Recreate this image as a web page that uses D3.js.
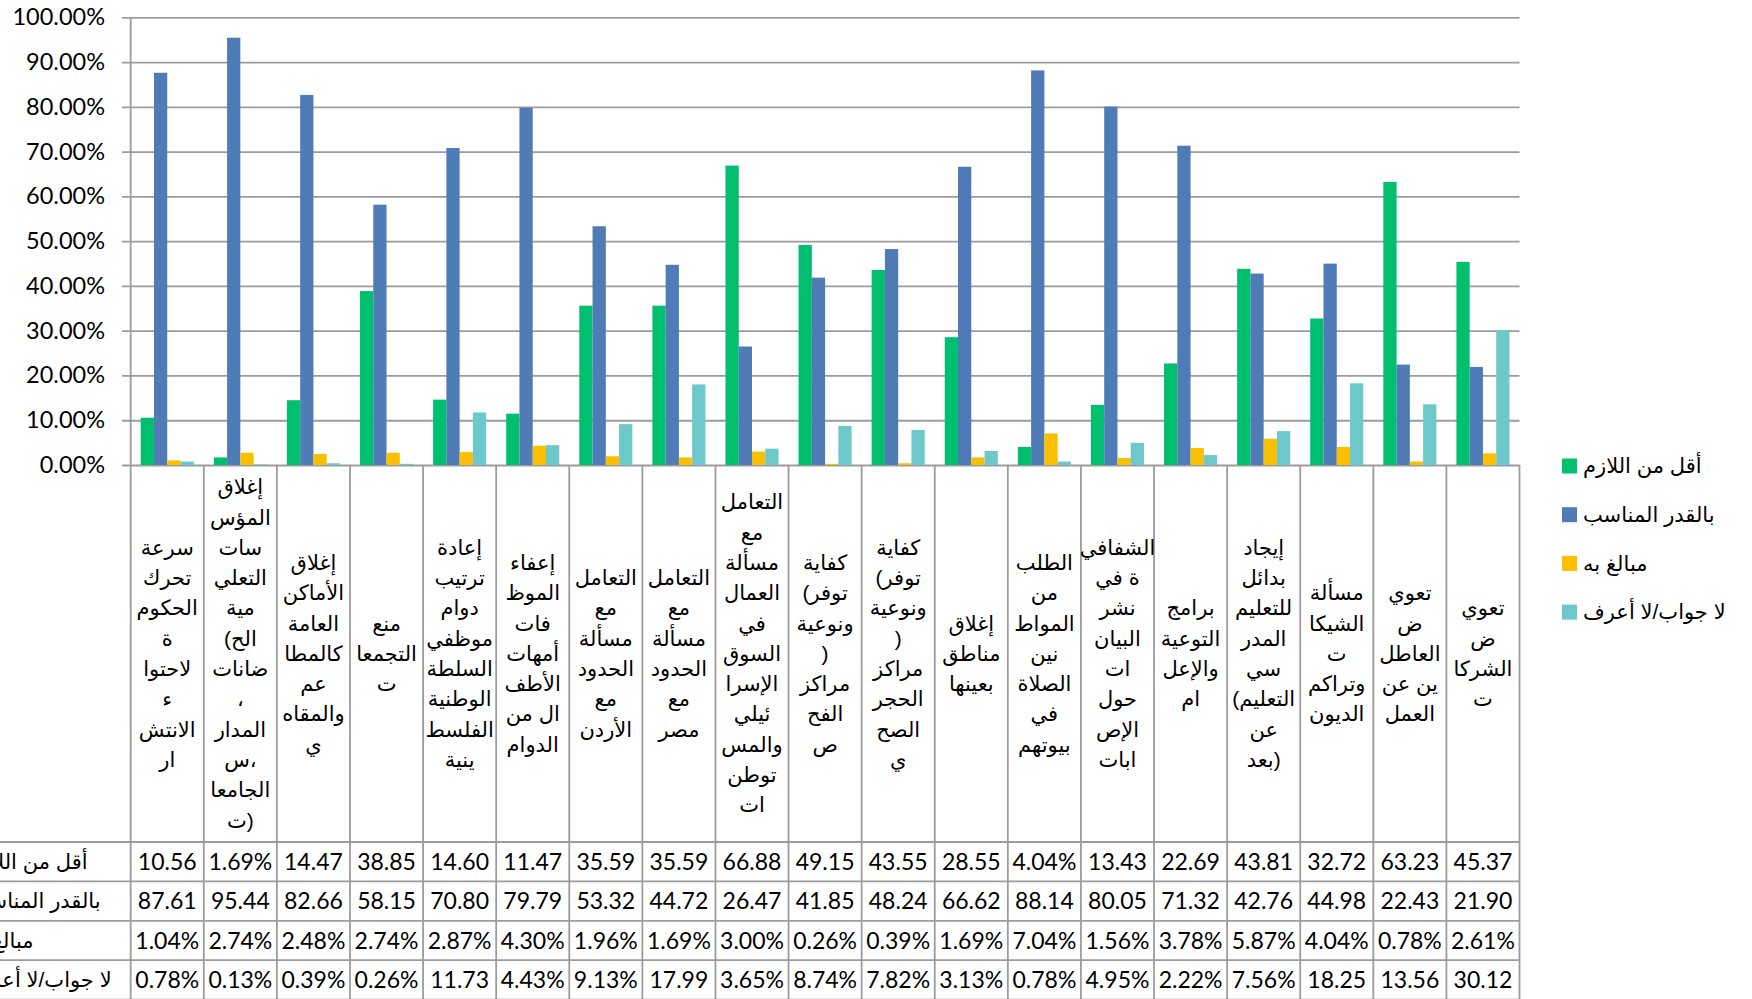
<!DOCTYPE html>
<html>
<head>
<meta charset="utf-8">
<script src="https://cdn.jsdelivr.net/npm/d3@7"></script>
<style>
body { margin: 0; background: #fff; }
svg { display: block; }
</style>
</head>
<body>
<div id="chart"></div>
<script>
const categories = [
    "سرعة\nتحرك\nالحكوم\nة\nلاحتوا\nء\nالانتش\nار",
    "إغلاق\nالمؤس\nسات\nالتعلي\nمية\n(الح\nضانات\n،\nالمدار\nس،\nالجامعا\nت)",
    "إغلاق\nالأماكن\nالعامة\nكالمطا\nعم\nوالمقاه\nي",
    "منع\nالتجمعا\nت",
    "إعادة\nترتيب\nدوام\nموظفي\nالسلطة\nالوطنية\nالفلسط\nينية",
    "إعفاء\nالموظ\nفات\nأمهات\nالأطف\nال من\nالدوام",
    "التعامل\nمع\nمسألة\nالحدود\nمع\nالأردن",
    "التعامل\nمع\nمسألة\nالحدود\nمع\nمصر",
    "التعامل\nمع\nمسألة\nالعمال\nفي\nالسوق\nالإسرا\nئيلي\nوالمس\nتوطن\nات",
    "كفاية\n(توفر\nونوعية\n)\nمراكز\nالفح\nص",
    "كفاية\n(توفر\nونوعية\n)\nمراكز\nالحجر\nالصح\nي",
    "إغلاق\nمناطق\nبعينها",
    "الطلب\nمن\nالمواط\nنين\nالصلاة\nفي\nبيوتهم",
    "الشفافي\nة في\nنشر\nالبيان\nات\nحول\nالإص\nابات",
    "برامج\nالتوعية\nوالإعل\nام",
    "إيجاد\nبدائل\nللتعليم\nالمدر\nسي\n(التعليم\nعن\nبعد)",
    "مسألة\nالشيكا\nت\nوتراكم\nالديون",
    "تعوي\nض\nالعاطل\nين عن\nالعمل",
    "تعوي\nض\nالشركا\nت"
];

const seriesNames = ["أقل من اللازم", "بالقدر المناسب", "مبالغ به", "لا جواب/لا أعرف"];

const lessThanNeeded = [10.56, 1.69, 14.47, 38.85, 14.60, 11.47, 35.59, 35.59, 66.88, 49.15, 43.55, 28.55, 4.04, 13.43, 22.69, 43.81, 32.72, 63.23, 45.37];
const appropriate    = [87.61, 95.44, 82.66, 58.15, 70.80, 79.79, 53.32, 44.72, 26.47, 41.85, 48.24, 66.62, 88.14, 80.05, 71.32, 42.76, 44.98, 22.43, 21.90];
const exaggerated    = [1.04, 2.74, 2.48, 2.74, 2.87, 4.30, 1.96, 1.69, 3.00, 0.26, 0.39, 1.69, 7.04, 1.56, 3.78, 5.87, 4.04, 0.78, 2.61];
const noAnswer       = [0.78, 0.13, 0.39, 0.26, 11.73, 4.43, 9.13, 17.99, 3.65, 8.74, 7.82, 3.13, 0.78, 4.95, 2.22, 7.56, 18.25, 13.56, 30.12];

const yTicks = [0, 10, 20, 30, 40, 50, 60, 70, 80, 90, 100];
const colors = ["#00bf6f", "#4f7cb6", "#fabf00", "#6dc8cc"];

const series = [lessThanNeeded, appropriate, exaggerated, noAnswer];

const width = 1752, height = 999;
const plotLeft = 130.7, plotRight = 1519.5, plotTop = 17.3, base = 465;
const tableTop = 842, rowH = 39.4;
const lineColor = "#9c9c9c";
const numFont = "Lato, 'Liberation Sans', sans-serif";
const arFont = "'Liberation Sans', 'DejaVu Sans', sans-serif";
const arSize = "21px";

const svg = d3.select("#chart")
    .append("svg")
    .attr("width", width)
    .attr("height", height);

let x = d3.scaleBand(d3.range(categories.length), [plotLeft, plotRight]);
let bw = x.bandwidth();
let xs = d3.scaleBand(seriesNames, [bw * 0.137, bw * 0.863]);
let y = d3.scaleLinear([0, 100], [base, plotTop]);

// y axis + gridlines
svg.append("g")
    .attr("transform", `translate(${plotLeft},0)`)
    .call(d3.axisLeft(y)
        .tickValues(yTicks)
        .tickSize(-(plotRight - plotLeft))
        .tickPadding(25.7)
        .tickFormat(d => d.toFixed(2) + "%"))
    .call(g => g.select(".domain").remove())
    .call(g => g.selectAll(".tick line")
        .attr("x1", -8.7)
        .attr("stroke", lineColor)
        .attr("stroke-width", 1.8))
    .call(g => g.selectAll(".tick text")
        .attr("fill", "#000")
        .style("font-family", numFont)
        .style("font-size", "23.5px"));

// bars
const groups = svg.append("g")
    .selectAll("g")
    .data(categories)
    .join("g")
    .attr("transform", (d, i) => `translate(${x(i)},0)`);

groups.selectAll("rect")
    .data((d, i) => seriesNames.map((name, s) => ({name, value: series[s][i], color: colors[s]})))
    .join("rect")
    .attr("x", d => xs(d.name))
    .attr("y", d => y(d.value))
    .attr("width", xs.bandwidth())
    .attr("height", d => base - y(d.value))
    .attr("fill", d => d.color);

// table grid lines
const grid = svg.append("g")
    .attr("stroke", lineColor)
    .attr("stroke-width", 1.8);

grid.selectAll(".vline")
    .data(d3.range(categories.length + 1))
    .join("line")
    .attr("x1", i => i < categories.length ? x(i) : plotRight)
    .attr("x2", i => i < categories.length ? x(i) : plotRight)
    .attr("y1", i => i === 0 ? plotTop : base)
    .attr("y2", height);

grid.selectAll(".hline")
    .data(d3.range(seriesNames.length + 1))
    .join("line")
    .attr("x1", 0)
    .attr("x2", plotRight)
    .attr("y1", r => tableTop + r * rowH)
    .attr("y2", r => tableTop + r * rowH);

// category labels: one line at a time, brackets set apart so they sit
// on the same side as in the original (left-to-right line order)
const lh = 30.3;
svg.append("g")
    .selectAll("g")
    .data(categories)
    .join("g")
    .each(function(d, i) {
        const lines = d.split("\n");
        const cy = (base + tableTop) / 2 - (lines.length - 1) / 2 * lh;
        const cat = d3.select(this);
        lines.forEach((line, k) => {
            const parts = line.split(/([()])/).filter(p => p !== "");
            const texts = cat.append("g")
                .selectAll("text")
                .data(parts)
                .join("text")
                .attr("y", cy + k * lh)
                .attr("dy", "0.35em")
                .style("font-family", arFont)
                .style("font-size", arSize)
                .text(p => p);
            const widths = texts.nodes().map(n => n.getComputedTextLength());
            const x0 = x(i) + bw / 2 - d3.sum(widths) / 2;
            texts.attr("x", (p, j) => x0 + d3.sum(widths.slice(0, j)));
        });
    });

// data table values
const fmt = v => v >= 10 ? v.toFixed(2) : v.toFixed(2) + "%";
seriesNames.forEach((name, r) => {
    svg.append("g")
        .selectAll("text")
        .data(series[r])
        .join("text")
        .attr("x", (v, i) => x(i) + bw / 2)
        .attr("y", tableTop + r * rowH + rowH / 2)
        .attr("dy", "0.35em")
        .attr("text-anchor", "middle")
        .style("font-family", numFont)
        .style("font-size", "23px")
        .text(fmt);
});

// row headers (clipped like the original)
svg.append("clipPath")
    .attr("id", "hdrClip")
    .append("rect")
    .attr("x", 0).attr("y", tableTop)
    .attr("width", plotLeft - 2).attr("height", height - tableTop);

svg.append("g")
    .attr("clip-path", "url(#hdrClip)")
    .selectAll("text")
    .data(seriesNames)
    .join("text")
    .attr("x", -31)
    .attr("y", (d, r) => tableTop + r * rowH + rowH / 2)
    .attr("dy", "0.35em")
    .style("font-family", arFont)
    .style("font-size", arSize)
    .text(d => d);

// legend
const legend = svg.append("g")
    .attr("transform", "translate(1562,0)")
    .selectAll("g")
    .data(seriesNames)
    .join("g")
    .attr("transform", (d, i) => `translate(0,${466 + i * 48.7})`);

legend.append("rect")
    .attr("y", -7.5)
    .attr("width", 15)
    .attr("height", 15)
    .attr("fill", (d, i) => colors[i]);

legend.append("text")
    .attr("x", 21)
    .attr("dy", "0.35em")
    .style("font-family", arFont)
    .style("font-size", arSize)
    .text(d => d);
</script>
</body>
</html>
